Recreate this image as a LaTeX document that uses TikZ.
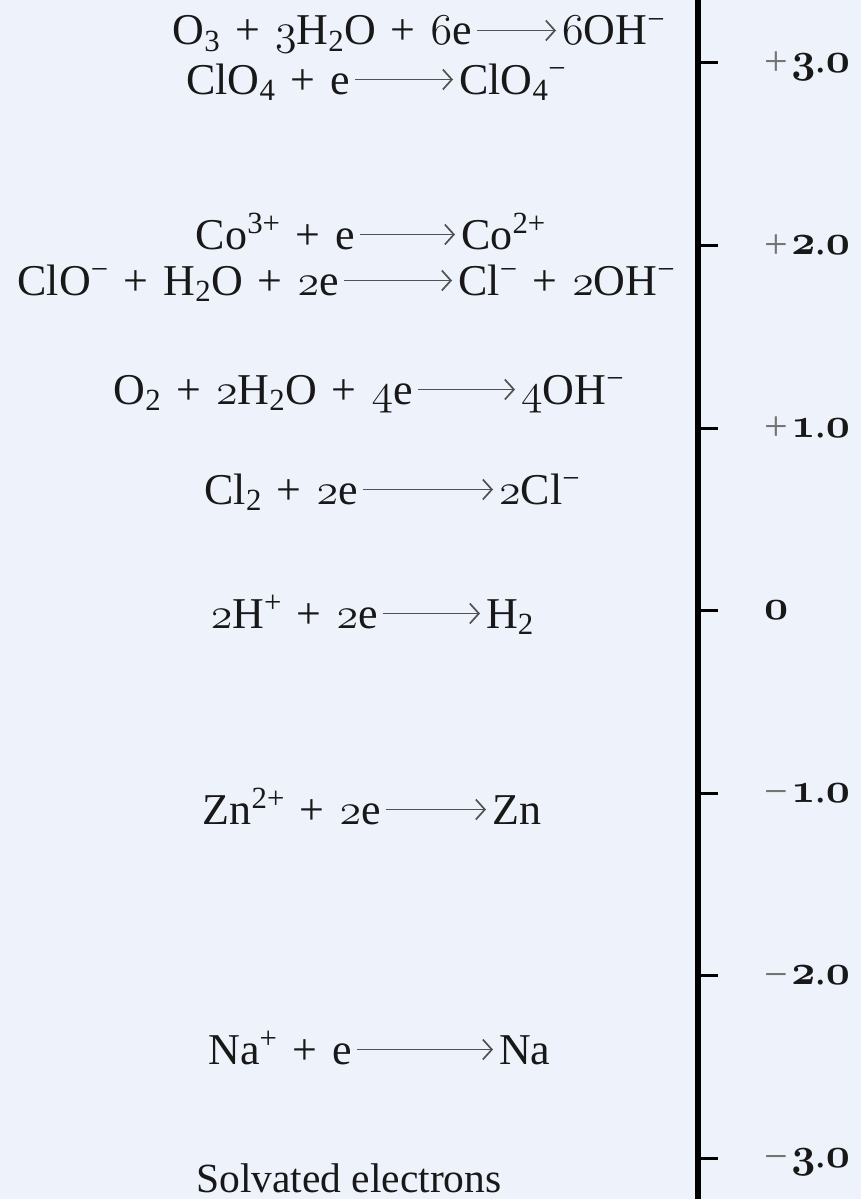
\RequirePackage{fix-cm}
\documentclass[tikz,border=0pt]{standalone}
\usepackage{fontspec}
\setmainfont{Liberation Serif}
\usetikzlibrary{arrows.meta}
\definecolor{bg}{RGB}{238,243,251}
\definecolor{ink}{RGB}{24,24,24}
\newcommand\osn[1]{{\usefont{OML}{cmm}{m}{it}#1}}
\newcommand\osb[1]{{\usefont{OML}{cmm}{b}{it}#1}}
\newcommand\sbs[1]{\textsubscript{#1}}
\newcommand\sps[1]{\textsuperscript{#1}}
\newcommand\pl{\hspace{0.34em}+\hspace{0.34em}}
\newcommand\sgn[1]{\raisebox{-0.09em}{\color{ink!60}#1}\hspace{0.08em}}
\tikzset{
  eq/.style={font=\fontsize{44}{46}\selectfont, text=ink, inner sep=0pt},
  captext/.style={font=\fontsize{41.5}{44}\selectfont, text=ink, inner sep=0pt},
  lab/.style={font=\fontsize{42}{44}\selectfont, text=ink, inner sep=0pt, anchor=base west},
  rxn/.style={draw=ink!75, line width=1.7pt, -{Straight Barb[length=9pt,width=20pt,line width=1.7pt]}},
  axisline/.style={draw=black, line width=6pt},
  tickline/.style={draw=black, line width=3pt}
}
\begin{document}
\begin{tikzpicture}[x=1pt,y=-1pt]
\fill[bg] (0,0) rectangle (861,1199);
\useasboundingbox (0,0) rectangle (861,1199);
% axis
\coordinate (atop) at (698,0);
\coordinate (abot) at (698,1199);
\draw[axisline] (atop) -- (abot);
% ticks and labels
\foreach \k/\t in {0/{\sgn{+}\osb{3}.\osb{0}},1/{\sgn{+}\osb{2}.\osb{0}},2/{\sgn{+}\osb{1}.\osb{0}},3/{\osb{0}},4/{\sgn{−}\osb{1}.\osb{0}},5/{\sgn{−}\osb{2}.\osb{0}},6/{\sgn{−}\osb{3}.\osb{0}}}{
  \coordinate (t\k) at (698,{63+182.5*\k});
  \coordinate (te\k) at (718,{63+182.5*\k});
  \draw[tickline] (t\k) -- (te\k);
  \node[lab] (tl\k) at (764,{63+182.5*\k+9}) {\t};
}
% equations: left part, arrow, right part
\newcommand\rx[6]{% name, baseline y, arrow start x, arrow end x, left, right
  \node[eq, anchor=base east] (#1l) at (#3-5,#2) {#5};
  \node[eq, anchor=base west] (#1r) at (#4+6,#2) {#6};
  \draw[rxn] ([xshift=5pt,yshift=14.5pt]#1l.base east) -- ([xshift=-6pt,yshift=14.5pt]#1r.base west);
}
\rx{a}{45}{477}{556}{O\sbs{3}\pl\osn{3}H\sbs{2}O\pl\osn{6}e}{\osn{6}OH\sps{−}}
\rx{b}{94}{355}{453}{ClO\sbs{4}\pl e}{ClO\sbs{4}\sps{−}}
\rx{c}{249}{360}{455}{Co\sps{3+}\pl e}{Co\sps{2+}}
\rx{d}{295}{344}{452}{ClO\sps{−}\pl H\sbs{2}O\pl\osn{2}e}{Cl\sps{−}\pl\osn{2}OH\sps{−}}
\rx{e}{404}{418}{515}{O\sbs{2}\pl\osn{2}H\sbs{2}O\pl\osn{4}e}{\osn{4}OH\sps{−}}
\rx{f}{504}{363}{493}{Cl\sbs{2}\pl\osn{2}e}{\osn{2}Cl\sps{−}}
\rx{g}{628}{383}{480}{\osn{2}H\sps{+}\pl\osn{2}e}{H\sbs{2}}
\rx{h}{824}{386}{486}{Zn\sps{2+}\pl\osn{2}e}{Zn}
\rx{i}{1064}{357}{493}{Na\sps{+}\pl e}{Na}
\node[captext, anchor=base west] (solv) at (196,1192) {Solvated electrons};
\end{tikzpicture}
\end{document}
